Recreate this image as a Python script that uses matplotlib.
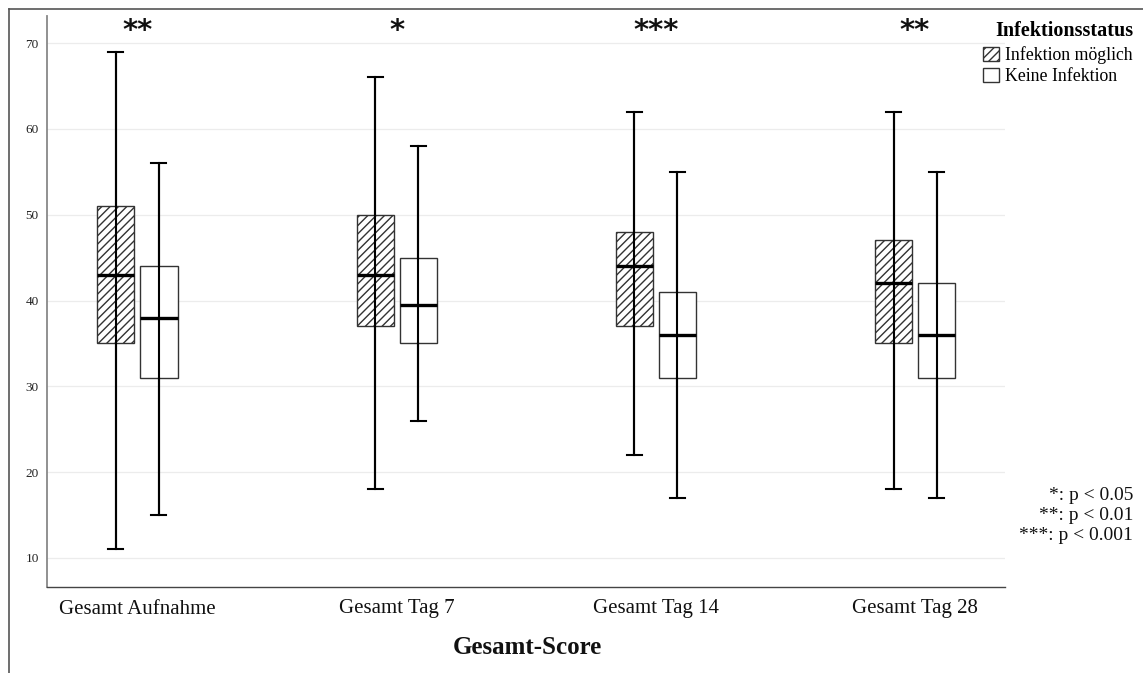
import matplotlib
matplotlib.use("Agg")
import matplotlib.pyplot as plt
from matplotlib.patches import Patch
from matplotlib.lines import Line2D

# Daten
gruppen = ["Gesamt Aufnahme", "Gesamt Tag 7", "Gesamt Tag 14", "Gesamt Tag 28"]
signif = ["**", "*", "***", "**"]

# Infektion möglich
inf_min = [11, 18, 22, 18]
inf_q1 = [35, 37, 37, 35]
inf_med = [43, 43, 44, 42]
inf_q3 = [51, 50, 48, 47]
inf_max = [69, 66, 62, 62]

# Keine Infektion
kein_min = [15, 26, 17, 17]
kein_q1 = [31, 35, 31, 31]
kein_med = [38, 39.5, 36, 36]
kein_q3 = [44, 45, 41, 42]
kein_max = [56, 58, 55, 55]

yticks = [10, 20, 30, 40, 50, 60, 70]

SERIF = "Liberation Serif"
plt.rcParams["hatch.color"] = "#333333"
plt.rcParams["hatch.linewidth"] = 1.0

fig = plt.figure(figsize=(11.43, 6.73), dpi=100)
ax = fig.add_axes([47/1143, 1-587/673, (1005-47)/1143, (587-16)/673])

OFF = 0.083
BW = 0.143


def stats(mn, q1, med, q3, mx):
    return [dict(whislo=a, q1=b, med=c, q3=d, whishi=e, fliers=[])
            for a, b, c, d, e in zip(mn, q1, med, q3, mx)]


xs = list(range(len(gruppen)))
for st, shift, hatch in [(stats(inf_min, inf_q1, inf_med, inf_q3, inf_max), -OFF, "////"),
                         (stats(kein_min, kein_q1, kein_med, kein_q3, kein_max), OFF, None)]:
    pos = [x + shift for x in xs]
    bp = ax.bxp(st, positions=pos, widths=BW, patch_artist=True, showfliers=False,
                boxprops=dict(facecolor="white", edgecolor="#333333", linewidth=1.0),
                medianprops=dict(color="black", linewidth=2.4),
                whiskerprops=dict(color="black", linewidth=1.5),
                capprops=dict(color="black", linewidth=1.5), capwidths=0.058,
                zorder=2)
    for b in bp["boxes"]:
        if hatch:
            b.set_hatch(hatch)
    for m in bp["medians"]:
        m.set_zorder(4)
    # Whisker-Linie läuft durch die Box
    ax.vlines(pos, [s["whislo"] for s in st], [s["whishi"] for s in st],
              color="black", linewidth=1.5, zorder=3)

ax.set_xlim(-0.349, 3.347)
ax.set_ylim(6.62, 73.15)
ax.set_yticks(yticks)
ax.set_xticks(xs)
ax.set_xticklabels(gruppen, fontsize=15, family=SERIF)
for t in ax.get_yticklabels():
    t.set_fontsize(9.5)
    t.set_family(SERIF)
ax.tick_params(axis="both", length=0)
ax.tick_params(axis="y", pad=6, colors="#222222")
ax.tick_params(axis="x", pad=9, labelcolor="#111111")
ax.grid(axis="y", color="#ececec", linewidth=0.9)
ax.set_axisbelow(True)
for s in ["top", "right"]:
    ax.spines[s].set_visible(False)
ax.spines["left"].set_color("#888888")
ax.spines["left"].set_linewidth(1.3)
ax.spines["bottom"].set_color("#444444")
ax.spines["bottom"].set_linewidth(1.0)

for x, s in zip(xs, signif):
    ax.text(x, 71.4, s, ha="center", va="center", fontsize=21,
            fontweight="bold", family="DejaVu Sans", color="#111111")

fig.text(527/1143, 1-647/673, "Gesamt-Score", ha="center", va="center",
         fontsize=18, fontweight="bold", family=SERIF, color="#111111")

handles = [Patch(facecolor="white", edgecolor="#333333", hatch="////", linewidth=1.0),
           Patch(facecolor="white", edgecolor="#333333", linewidth=1.0)]
leg = ax.legend(handles, ["Infektion möglich", "Keine Infektion"],
                title="Infektionsstatus", loc="upper right",
                bbox_to_anchor=(1133/1143, 1-21/673), bbox_transform=fig.transFigure,
                frameon=False, borderpad=0, borderaxespad=0,
                handlelength=0.9, handleheight=0.8, handletextpad=0.35,
                labelspacing=0.2, prop=dict(family=SERIF, size=12.8),
                title_fontproperties=dict(family=SERIF, size=14.5, weight="bold"))
leg._legend_box.align = "right"
leg._legend_box.sep = 4

for i, txt in enumerate(["*: p < 0.05", "**: p < 0.01", "***: p < 0.001"]):
    fig.text(1133/1143, 1-(496 + 20*i)/673, txt, ha="right", va="center",
             fontsize=14, family=SERIF, color="#111111")

# äußerer Rahmen
fig.add_artist(Line2D([9/1143, 1], [1-9/673, 1-9/673], color="#555555", linewidth=1.2))
fig.add_artist(Line2D([9/1143, 9/1143], [0, 1-9/673], color="#555555", linewidth=1.2))

fig.savefig("out.png", dpi=100, facecolor="white")
